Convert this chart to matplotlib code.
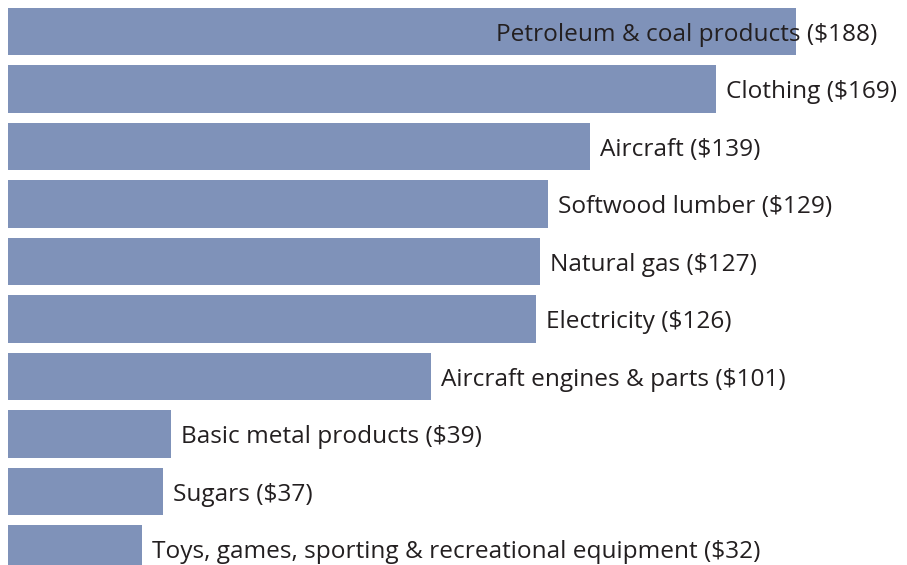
import matplotlib.pyplot as plt

# categories and values (billions)
categories = ["Petroleum & coal products", "Clothing", "Aircraft", "Softwood lumber",
              "Natural gas", "Electricity", "Aircraft engines & parts",
              "Basic metal products", "Sugars",
              "Toys, games, sporting & recreational equipment"]
values = [188, 169, 139, 129, 127, 126, 101, 39, 37, 32]

plt.rcParams['font.family'] = ['Open Sans', 'DejaVu Sans']

fig = plt.figure(figsize=(9.07, 5.65), dpi=100)
ax = fig.add_axes([0, 0, 1, 1])

ypos = list(range(len(values)))
ax.barh(ypos, values, height=0.82, color='#7F92B9')

for i, (c, v) in enumerate(zip(categories, values)):
    lab = c + " ($" + str(v) + ")"
    if v == max(values):
        # too long to fit to the right, pull it back inside
        ax.text(207.4, i + 0.06, lab, ha='right', va='center', fontsize=17.6, color='#231f20')
    else:
        ax.text(v + 2.4, i + 0.06, lab, ha='left', va='center', fontsize=17.6, color='#231f20')

ax.set_xlim(-1.91, 214.6)
ax.set_ylim(9.278, -0.548)
ax.axis('off')

fig.savefig('out.png', dpi=100)
